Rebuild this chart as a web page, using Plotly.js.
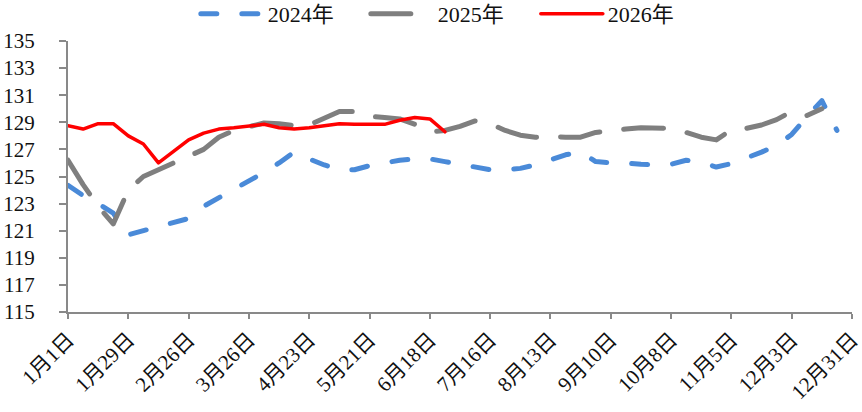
<!DOCTYPE html>
<html>
<head>
<meta charset="utf-8">
<script src="https://cdn.plot.ly/plotly-3.0.1.min.js"></script>
<style>
  body { margin: 0; background: #fff; }
  #chart { width: 862px; height: 412px; }
  .js-line { stroke-linecap: round; stroke-linejoin: round; }
</style>
</head>
<body>
<div id="chart"></div>
<script>
// week index 0..52, tick every 4 weeks
var tickLabels = ["1月1日","1月29日","2月26日","3月26日","4月23日","5月21日","6月18日",
                  "7月16日","8月13日","9月10日","10月8日","11月5日","12月3日","12月31日"];

var y2024 = [124.35,123.6,123.0,122.3,120.7,121.0,121.3,121.6,121.9,122.8,
             123.4,124.0,124.6,125.3,126.0,126.8,126.3,125.85,125.5,125.5,
             125.8,126.0,126.2,126.3,126.3,126.1,125.9,125.7,125.5,125.5,
             125.6,125.85,126.25,126.6,126.8,126.1,126.0,126.0,125.9,125.85,
             125.9,126.2,126.05,125.7,125.95,126.35,126.8,127.3,128.1,129.4,
             130.6,128.4];

var y2025 = [126.2,124.4,122.8,121.5,124.0,125.0,125.5,126.05,126.5,127.0,
             127.9,128.4,128.7,128.95,128.9,128.75,128.8,129.3,129.8,129.8,
             129.45,129.35,129.25,128.85,128.3,128.4,128.7,129.1,128.9,128.4,
             128.05,127.9,127.95,127.9,127.9,128.25,128.4,128.5,128.6,128.6,
             128.55,128.25,127.9,127.7,128.45,128.55,128.8,129.2,129.8,129.5,
             130.0];

var y2026 = [128.75,128.5,128.9,128.9,128.0,127.4,126.0,126.85,127.7,128.2,
             128.5,128.6,128.75,128.85,128.6,128.5,128.6,128.75,128.9,128.85,
             128.85,128.85,129.15,129.35,129.25,128.3];

function idx(arr){
    var out=[];
    for(var i=0;i<arr.length;i++) out.push(i);
    return out;
}
var tickVals=[];
for(var t=0;t<tickLabels.length;t++) tickVals.push(t*4);

var fontFam = '"Liberation Serif", "Noto Sans CJK SC", serif';

var trace2024 = {
    x: idx(y2024), y: y2024, type: 'scatter', mode: 'lines', name: '2024年',
    line: {color: '#4a8ad8', width: 5, dash: '16px,25px'}
};
var trace2025 = {
    x: idx(y2025), y: y2025, type: 'scatter', mode: 'lines', name: '2025年',
    line: {color: '#7f7f7f', width: 5, dash: '40px,24px'}
};
var trace2026 = {
    x: idx(y2026), y: y2026, type: 'scatter', mode: 'lines', name: '2026年',
    line: {color: '#ff0000', width: 3.5}
};

var layout = {
    width: 862, height: 412,
    margin: {l: 68, r: 10, t: 41, b: 100},
    paper_bgcolor: '#fff', plot_bgcolor: '#fff',
    font: {family: fontFam, size: 21, color: '#111'},
    showlegend: true,
    legend: {
        orientation: 'h', xref: 'container', yref: 'container',
        x: 0.523, xanchor: 'center', y: 0.966, yanchor: 'middle',
        font: {family: fontFam, size: 22, color: '#111'},
        itemwidth: 62, entrywidth: 93, traceorder: 'normal'
    },
    xaxis: {
        range: [-0.0001, 52.0001], tickmode: 'array', tickvals: tickVals, ticktext: tickLabels,
        tickangle: -45, showgrid: false, zeroline: false,
        showline: true, linecolor: '#898989', linewidth: 2,
        ticks: 'outside', ticklen: 5, tickcolor: '#898989', tickwidth: 2,
        ticklabeloverflow: 'allow',
        tickfont: {family: fontFam, size: 21, color: '#111'}
    },
    yaxis: {
        range: [115, 135], tickmode: 'linear', tick0: 115, dtick: 2,
        showgrid: false, zeroline: false,
        showline: true, linecolor: '#898989', linewidth: 2,
        ticks: 'outside', ticklen: 7, tickcolor: '#898989', tickwidth: 2,
        ticklabelstandoff: 20,
        tickfont: {family: fontFam, size: 21, color: '#111'}
    }
};

Plotly.newPlot('chart', [trace2024, trace2025, trace2026], layout, {staticPlot: true});
</script>
</body>
</html>
